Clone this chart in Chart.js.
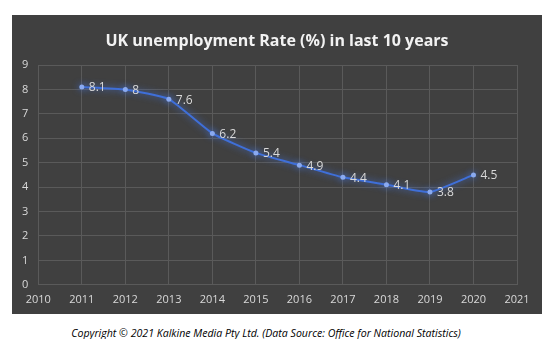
<!DOCTYPE html>
<html>
<head>
<meta charset="utf-8">
<script src="https://cdn.jsdelivr.net/npm/chart.js@4"></script>
<style>
  body { margin: 0; background: #fff; width: 552px; height: 339px; position: relative; overflow: hidden; }
  #panel { position: absolute; left: 12px; top: 15px; width: 530px; height: 299px; background: #404040; }
  #title { position: absolute; left: 12px; top: 15px; width: 530px; padding-top: 14px; text-align: center;
           font-family: "Open Sans", sans-serif; font-weight: bold; font-size: 16px; color: #f2f2f2; }
  #credit { position: absolute; left: -10px; width: 552px; top: 326px; text-align: center;
            font-family: "Open Sans", sans-serif; font-style: italic; font-size: 10.6px; color: #000; }
</style>
</head>
<body>
<div id="panel"><canvas id="lineChart" width="530" height="299"></canvas></div>
<div id="title">UK unemployment Rate (%) in last 10 years</div>
<div id="credit">Copyright © 2021 Kalkine Media Pty Ltd. (Data Source: Office for National Statistics)</div>
<script>
var years = [2011, 2012, 2013, 2014, 2015, 2016, 2017, 2018, 2019, 2020];
var rates = [8.1, 8, 7.6, 6.2, 5.4, 4.9, 4.4, 4.1, 3.8, 4.5];
var xTicks = [2010, 2011, 2012, 2013, 2014, 2015, 2016, 2017, 2018, 2019, 2020, 2021];
var yTicks = [0, 1, 2, 3, 4, 5, 6, 7, 8, 9];

document.addEventListener('DOMContentLoaded', function () {
    var ctx = document.getElementById('lineChart').getContext('2d');

    // soft glow under the line
    var glowPlugin = {
        id: 'glow',
        beforeDatasetsDraw: function (chart) {
            chart.ctx.save();
            chart.ctx.shadowColor = 'rgba(70, 120, 230, 0.9)';
            chart.ctx.shadowBlur = 7;
        },
        afterDatasetsDraw: function (chart) {
            chart.ctx.restore();
        }
    };

    // value labels to the right of each point
    var labelPlugin = {
        id: 'valueLabels',
        afterDraw: function (chart) {
            var c = chart.ctx;
            var meta = chart.getDatasetMeta(0);
            c.save();
            c.font = '12px "Open Sans", sans-serif';
            c.fillStyle = '#d9d9d9';
            c.textAlign = 'left';
            c.textBaseline = 'middle';
            meta.data.forEach(function (pt, i) {
                c.fillText(String(rates[i]), pt.x + 7, pt.y + 1);
            });
            c.restore();
        }
    };

    new Chart(ctx, {
        type: 'line',
        data: {
            datasets: [{
                data: years.map(function (y, i) { return { x: y, y: rates[i] }; }),
                borderColor: '#3f6fd8',
                borderWidth: 2,
                tension: 0.15,
                pointRadius: 2.5,
                pointBackgroundColor: '#8aaaf0',
                pointBorderColor: '#8aaaf0',
                pointBorderWidth: 0
            }]
        },
        options: {
            responsive: false,
            animation: { duration: 0 },
            layout: { padding: { left: 0, right: 25, top: 50, bottom: 0 } },
            plugins: {
                legend: { display: false },
                tooltip: { enabled: false },
                title: { display: false }
            },
            scales: {
                x: {
                    type: 'linear',
                    min: 2010,
                    max: 2021,
                    afterBuildTicks: function (axis) {
                        axis.ticks = xTicks.map(function (v) { return { value: v }; });
                    },
                    ticks: {
                        color: '#d9d9d9',
                        font: { family: '"Open Sans", sans-serif', size: 11 },
                        maxRotation: 0,
                        padding: 8,
                        callback: function (v) { return String(v); }
                    },
                    grid: { color: '#5a5a5a', drawTicks: false },
                    border: { color: '#5a5a5a' }
                },
                y: {
                    min: 0,
                    max: 9,
                    afterBuildTicks: function (axis) {
                        axis.ticks = yTicks.map(function (v) { return { value: v }; });
                    },
                    ticks: {
                        color: '#d9d9d9',
                        font: { family: '"Open Sans", sans-serif', size: 11 },
                        padding: 10
                    },
                    grid: { color: '#5a5a5a', drawTicks: false },
                    border: { color: '#5a5a5a' }
                }
            }
        },
        plugins: [glowPlugin, labelPlugin]
    });
});
</script>
</body>
</html>
